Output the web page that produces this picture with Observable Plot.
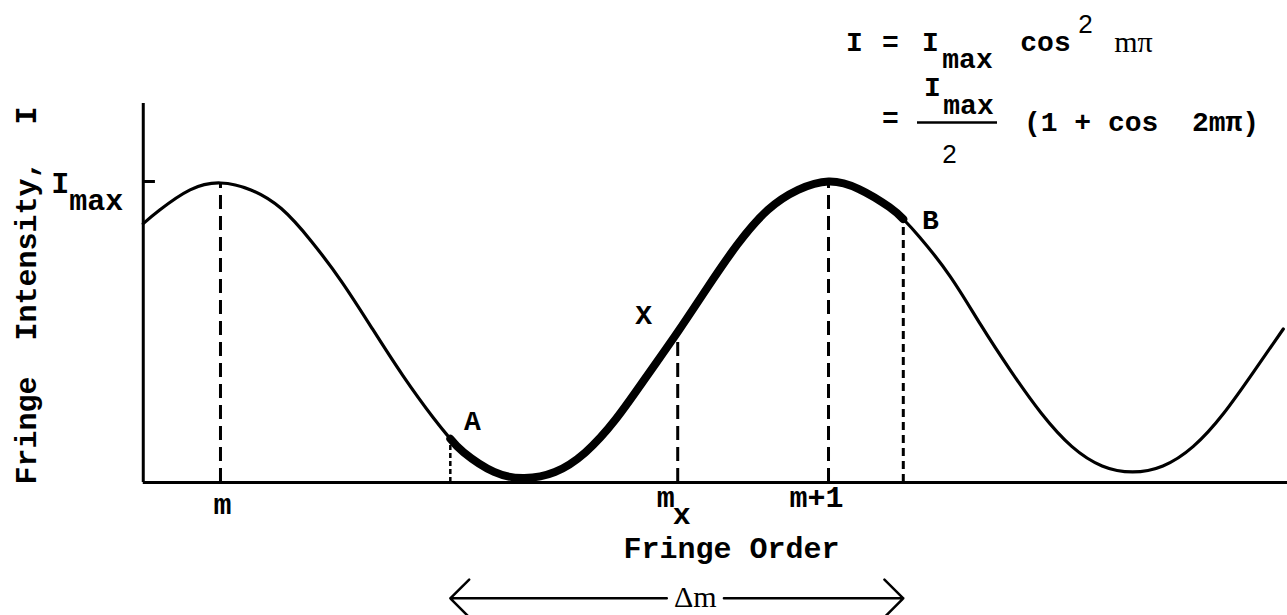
<!DOCTYPE html>
<html>
<head>
<meta charset="utf-8">
<script src="https://cdn.jsdelivr.net/npm/d3@7"></script>
<script src="https://cdn.jsdelivr.net/npm/@observablehq/plot@0.6"></script>
<style>
  html, body { margin: 0; padding: 0; background: #fff; }
  #chart svg { display: block; }
</style>
</head>
<body>
<div id="chart"></div>
<script>
// ---------- data ----------
// fringe order measured from fringe m (m = 0, m+1 = 1)
const orders = [-0.127,-0.10,-0.05,0,0.05,0.10,0.15,0.20,0.25,0.30,0.35,0.378,0.40,0.45,0.50,0.55,0.60,0.65,0.70,0.752,0.80,0.85,0.90,0.95,1.00,1.05,1.10,1.123,1.15,1.20,1.25,1.30,1.35,1.40,1.45,1.50,1.55,1.60,1.65,1.70,1.748];
// intensity as a fraction of I max
const intensity = [0.86,0.905,0.972,0.995,0.972,0.91,0.80,0.665,0.51,0.355,0.215,0.145,0.10,0.035,0.015,0.035,0.10,0.21,0.35,0.50,0.645,0.79,0.905,0.972,1.0,0.975,0.915,0.875,0.815,0.685,0.525,0.37,0.23,0.12,0.055,0.035,0.055,0.12,0.23,0.37,0.51];

const markerNames = ["A", "X", "B"];
const markerOrders = [0.378, 0.752, 1.123];
const markerIntensity = [0.145, 0.50, 0.875];

const peakOrders = [0, 1];
const peakIntensity = [0.995, 1.0];

const tickNames = ["m", "m", "m+1"];
const tickOrders = [0, 0.752, 1];

const iMax = 1;
const axisStartOrder = -0.127;
const axisEndOrder = 1.755;
const axisTopIntensity = 1.259;

const xLabel = "Fringe Order";
const yLabel = "Fringe  Intensity,  I";
const deltaLabel = "\u0394m";

// ---------- tables built from the arrays ----------
const curve = orders.map((o, i) => ({order: o, I: intensity[i]}));
const markers = markerNames.map((n, i) => ({name: n, order: markerOrders[i], I: markerIntensity[i]}));
const segA = markers[0].order, segB = markers[2].order;
const thick = curve.filter(d => d.order >= segA && d.order <= segB);
const longDrops = peakOrders.map((o, i) => ({order: o, I: peakIntensity[i]})).concat([markers[1]]);
const ticks = tickNames.map((n, i) => ({name: n, order: tickOrders[i]}));

// ---------- layout ----------
const MONO = "'Liberation Mono', 'Courier New', monospace";
const SERIF = "'Liberation Serif', 'Times New Roman', serif";
const SANS = "'Liberation Sans', Arial, sans-serif";
const FS = 30;
const arrowY = -0.385;
const deltaMid = 0.781;
const deltaHalfGap = 0.047;

const markerOffsets = {A: [22, -9], X: [-34, -8], B: [27, 10]};
const tickOffsets = [[2, 32], [-12, 25], [-12, 25]];

// formula pieces: text, x px, baseline px, size, family, weight
const formula = [
  ["I", 854, 50, 28, MONO, "bold"],
  ["=", 890, 50, 28, MONO, "bold"],
  ["I", 930, 50, 28, MONO, "bold"],
  ["max", 967, 67, 28, MONO, "bold"],
  ["cos", 1045, 50, 28, MONO, "bold"],
  ["2", 1085, 32, 26, SANS, "normal"],
  ["m\u03C0", 1133, 51, 30, SERIF, "normal"],
  ["=", 890, 126, 28, MONO, "bold"],
  ["I", 932, 95, 28, MONO, "bold"],
  ["max", 968, 113, 28, MONO, "bold"],
  ["2", 949, 162, 26, SANS, "normal"],
  ["(1 + cos  2m\u03C0)", 1141, 130, 28, MONO, "bold"]
];

const textMarks = [];
for (const [t, x, y, fs, fam, fw] of formula) {
  textMarks.push(Plot.text([t], {frameAnchor: "top-left", dx: x, dy: y, text: d => d,
    textAnchor: "middle", lineAnchor: "bottom", fontSize: fs, fontFamily: fam, fontWeight: fw, fill: "black"}));
}
// fraction bar under numerator
textMarks.push(Plot.ruleY([0], {y: () => 1.6013 - 122 / 301, x1: (917 - 220) / 608, x2: (997 - 220) / 608, stroke: "black", strokeWidth: 2.5}));

for (const m of markers) {
  const [dx, dy] = markerOffsets[m.name];
  textMarks.push(Plot.text([m], {x: "order", y: "I", text: "name", dx, dy, textAnchor: "middle",
    lineAnchor: "bottom", fontSize: 28, fontFamily: MONO, fontWeight: "bold", fill: "black"}));
}
ticks.forEach((t, i) => {
  const [dx, dy] = tickOffsets[i];
  textMarks.push(Plot.text([t], {x: "order", y: () => 0, text: "name", dx, dy, textAnchor: "middle",
    lineAnchor: "bottom", fontSize: FS, fontFamily: MONO, fontWeight: "bold", fill: "black"}));
});
// subscript x of m_x
textMarks.push(Plot.text([ticks[1]], {x: "order", y: () => 0, text: () => "x", dx: 4, dy: 42, textAnchor: "middle",
  lineAnchor: "bottom", fontSize: FS, fontFamily: MONO, fontWeight: "bold", fill: "black"}));

// I max label beside tick
textMarks.push(Plot.text(["I"], {x: () => axisStartOrder, y: () => iMax, text: d => d, dx: -83, dy: 12,
  textAnchor: "middle", lineAnchor: "bottom", fontSize: FS, fontFamily: MONO, fontWeight: "bold", fill: "black"}));
textMarks.push(Plot.text(["max"], {x: () => axisStartOrder, y: () => iMax, text: d => d, dx: -47, dy: 29,
  textAnchor: "middle", lineAnchor: "bottom", fontSize: FS, fontFamily: MONO, fontWeight: "bold", fill: "black"}));

// axis titles
textMarks.push(Plot.text([xLabel], {frameAnchor: "top-left", dx: 731, dy: 557, text: d => d, textAnchor: "middle",
  lineAnchor: "bottom", fontSize: FS, fontFamily: MONO, fontWeight: "bold", fill: "black"}));
textMarks.push(Plot.text([yLabel], {frameAnchor: "top-left", dx: 26, dy: 295, text: d => d, rotate: -90,
  textAnchor: "middle", lineAnchor: "middle", fontSize: FS, fontFamily: MONO, fontWeight: "bold", fill: "black"}));

// delta m label
textMarks.push(Plot.text([deltaLabel], {x: () => deltaMid, y: () => arrowY, text: d => d, dy: 9, textAnchor: "middle",
  lineAnchor: "bottom", fontSize: 30, fontFamily: SERIF, fill: "black"}));

const chart = Plot.plot({
  width: 1287,
  height: 615,
  margin: 0,
  x: {domain: [-0.3618, 1.7549], axis: null},
  y: {domain: [-0.4419, 1.6013], axis: null},
  style: {background: "white", color: "black", fontFamily: MONO},
  marks: [
    // axes of the figure
    Plot.ruleX([axisStartOrder], {y1: 0, y2: axisTopIntensity, stroke: "black", strokeWidth: 3}),
    Plot.ruleY([0], {x1: axisStartOrder, x2: axisEndOrder, stroke: "black", strokeWidth: 3}),
    Plot.ruleY([iMax], {x1: axisStartOrder, x2: axisStartOrder + 0.02, stroke: "black", strokeWidth: 3}),
    // dashed drop lines
    Plot.ruleX(longDrops, {x: "order", y1: 0, y2: "I", stroke: "black", strokeWidth: 3, strokeDasharray: "14,7"}),
    Plot.ruleX([markers[0]], {x: "order", y1: 0, y2: "I", stroke: "black", strokeWidth: 2.5, strokeDasharray: "5,3"}),
    Plot.ruleX([markers[2]], {x: "order", y1: 0, y2: "I", stroke: "black", strokeWidth: 3, strokeDasharray: "8,5"}),
    // intensity curve
    Plot.line(curve, {x: "order", y: "I", curve: "natural", stroke: "black", strokeWidth: 3.2}),
    Plot.line(thick, {x: "order", y: "I", curve: "natural", stroke: "black", strokeWidth: 8}),
    // delta m arrows
    Plot.arrow([{x1: deltaMid - deltaHalfGap, x2: segA}, {x1: deltaMid + deltaHalfGap, x2: segB}],
      {x1: "x1", x2: "x2", y1: () => arrowY, y2: () => arrowY, stroke: "black", strokeWidth: 2.5, headLength: 16, headAngle: 90}),
    ...textMarks
  ]
});
document.getElementById("chart").append(chart);
</script>
</body>
</html>
